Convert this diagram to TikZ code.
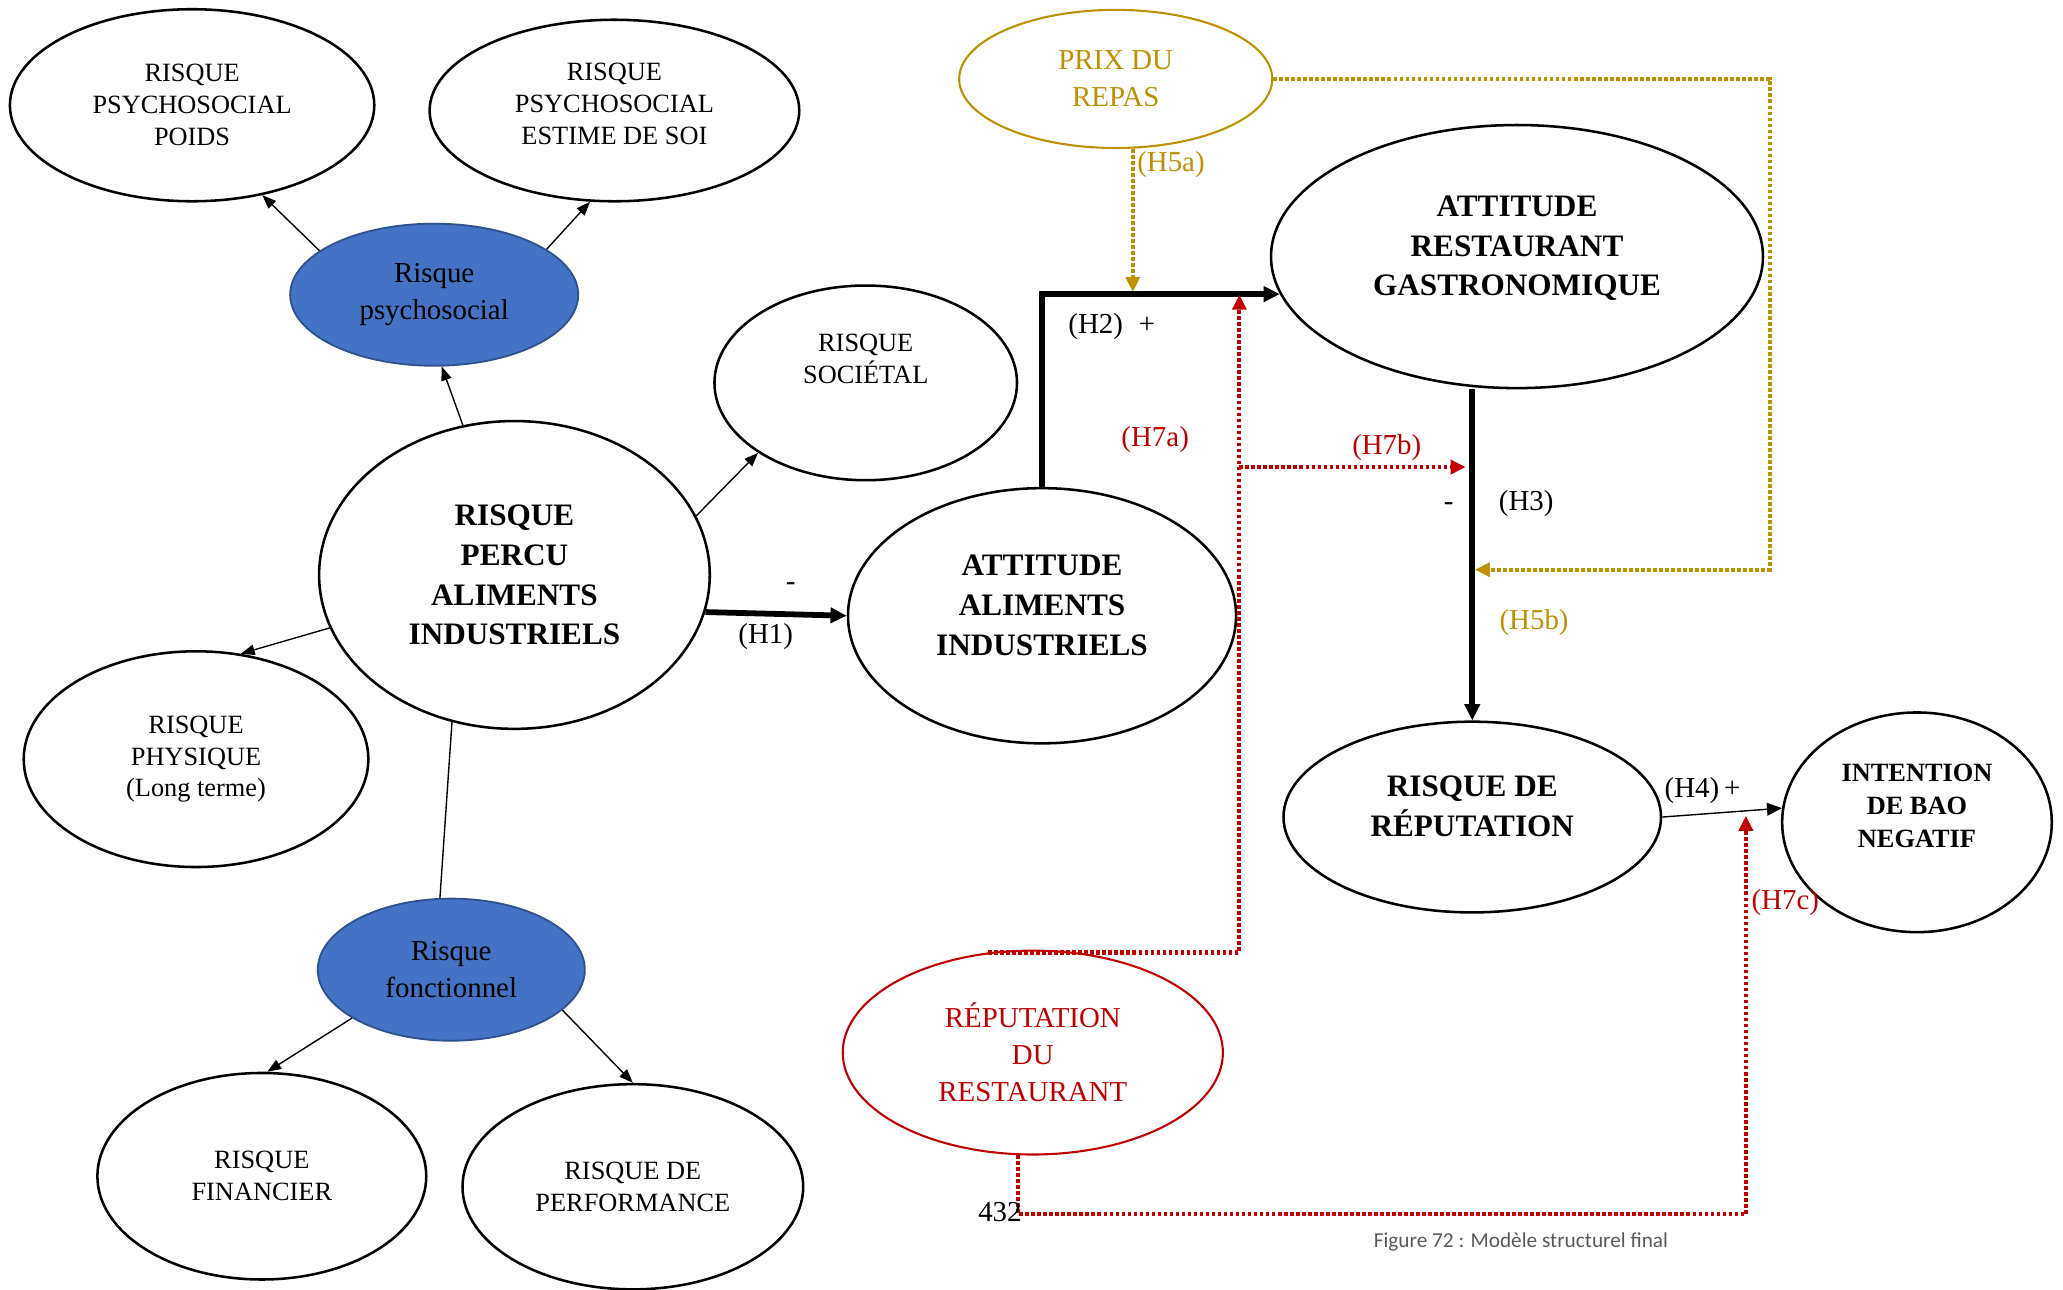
\documentclass[tikz,border=0pt]{standalone}
\usepackage{fontspec}
\setmainfont{Liberation Serif}
\newfontfamily\legendefont{Carlito}
\usepackage{tikz}
\usetikzlibrary{arrows.meta,positioning,shapes.geometric}

\definecolor{bleu}{HTML}{4472C4}
\definecolor{bleubord}{HTML}{2F528F}
\definecolor{ocre}{HTML}{BF9000}
\definecolor{rouge}{HTML}{C00000}
\definecolor{gris}{HTML}{595959}

\begin{document}
\begin{tikzpicture}[x=0.02cm,y=-0.02cm,
  var/.style={ellipse,draw,line width=1.1pt,inner sep=0pt,align=center},
  petit/.style={var,font=\fontsize{11.4}{13.8}\selectfont},
  grand/.style={var,font=\fontsize{13.5}{17.2}\selectfont\bfseries},
  dimbleue/.style={var,draw=bleubord,fill=bleu,line width=0.8pt,font=\fontsize{12.5}{16}\selectfont},
  modvar/.style={var,line width=0.9pt,font=\fontsize{12.5}{16}\selectfont},
  lien/.style={line width=0.6pt,-{Triangle[length=6pt,width=4.5pt]}},
  hyp/.style={line width=2.5pt,-{Triangle[length=7pt,width=6.5pt]}},
  lab/.style={font=\fontsize{12.5}{15}\selectfont,inner sep=1pt},
  pointille/.style={line width=1.8pt,dash pattern=on 1.6pt off 1pt,-{Triangle[length=6.5pt,width=6pt]}}
]
\useasboundingbox (0,0) rectangle (1568,980);

% dimensions du risque percu
\node[petit,minimum width=5.54cm,minimum height=2.92cm] (poids) at (146,80) {RISQUE\\PSYCHOSOCIAL\\POIDS};
\node[petit,minimum width=5.62cm,minimum height=2.76cm] (estime) at (467,84) {RISQUE\\PSYCHOSOCIAL\\ESTIME DE SOI\\[-8pt]\mbox{}};
\node[dimbleue,minimum width=4.38cm,minimum height=2.16cm] (psy) at (330,224) {Risque\\psychosocial};
\node[petit,minimum width=4.6cm,minimum height=2.96cm] (soc) at (658,291) {RISQUE\\SOCIÉTAL\\[7pt]\mbox{}};
\node[grand,minimum width=5.94cm,minimum height=4.68cm] (percu) at (391,437) {RISQUE\\PERCU\\ALIMENTS\\INDUSTRIELS};
\node[petit,minimum width=5.24cm,minimum height=3.28cm] (phys) at (149,577) {RISQUE\\PHYSIQUE\\(Long terme)};
\node[dimbleue,minimum width=4.06cm,minimum height=2.16cm] (fonc) at (343,737) {Risque\\fonctionnel};
\node[petit,minimum width=5.0cm,minimum height=3.14cm] (fin) at (199,894) {RISQUE\\FINANCIER};
\node[petit,minimum width=5.18cm,minimum height=3.12cm] (perf) at (481,902) {RISQUE DE\\PERFORMANCE};

\draw[lien] (psy.159) -- (poids.-52);
\draw[lien] (psy.22) -- (estime.-105);
\draw[lien] (percu.109) -- (psy.-84);
\draw[lien] (percu.18) -- (soc.-147);
\draw[lien] (percu.196) -- (phys.67);
\draw[line width=0.6pt] (percu.-113) -- (fonc.99);
\draw[lien] (fonc.206) -- (fin.87);
\draw[lien] (fonc.-20) -- (perf.90);

% modele structurel
\node[grand,minimum width=5.9cm,minimum height=3.88cm] (ai) at (792,468) {ATTITUDE\\ALIMENTS\\INDUSTRIELS\\[-8pt]\mbox{}};
\node[grand,minimum width=7.48cm,minimum height=4.0cm] (rg) at (1153,195) {ATTITUDE\\RESTAURANT\\GASTRONOMIQUE\\[-8pt]\mbox{}};
\node[grand,minimum width=5.74cm,minimum height=2.9cm] (rr) at (1119,621) {RISQUE DE\\RÉPUTATION\\[-8pt]\mbox{}};
\node[var,font=\fontsize{11.4}{14.2}\selectfont\bfseries,minimum width=4.1cm,minimum height=3.34cm] (bao) at (1457,625) {INTENTION\\DE BAO\\NEGATIF\\[0pt]\mbox{}};
\node[modvar,draw=ocre,text=ocre,minimum width=4.76cm,minimum height=2.1cm] (prix) at (848,60) {PRIX DU\\REPAS};
\node[modvar,draw=rouge,text=rouge,minimum width=5.78cm,minimum height=3.1cm] (rep) at (785,800) {RÉPUTATION\\DU\\RESTAURANT};

\draw[hyp] (percu.-11) -- (ai.west);
\node[lab] (h1signe) at (601,446) {-};
\node[lab] (h1) at (582,484) {(H1)};

\draw[hyp] (ai.north) |- (rg.189);
\node[lab] (h2) at (845,248) {(H2)\hspace{0.55em}+};

\draw[hyp] (rr.north |- rg.south) -- (rr.north);
\node[lab] (h3signe) at (1101,385) {-};
\node[lab] (h3) at (1160,383) {(H3)};

\draw[line width=0.6pt,-{Triangle[length=6.5pt,width=5.5pt]}] (rr.east) -- (bao.174);
\node[lab] (h4) at (1294,601) {(H4)\,+};

% moderateur prix
\coordinate (h5a) at (861,222);
\coordinate (h5b) at (1121,433);
\coordinate (coinh5) at (1345,433);
\draw[pointille,ocre] (prix.south -| h5a) -- (h5a);
\draw[pointille,ocre] (prix.east) -| (coinh5) -- (h5b);
\node[lab,text=ocre] (h5alab) at (890,125) {(H5a)};
\node[lab,text=ocre] (h5blab) at (1166,473) {(H5b)};

% moderateur reputation
\coordinate (h7a) at (942,224);
\coordinate (h7b) at (1114,355);
\coordinate (h7c) at (1327,620);
\coordinate (coinh7) at (1327,923);
\draw[pointille,rouge] (rep.114) -- (rep.114 -| h7a) -- (h7a);
\draw[pointille,rouge] (h7a |- h7b) -- (h7b);
\draw[pointille,rouge] (rep.-98) |- (coinh7) -- (h7c);
\node[lab,text=rouge] (h7alab) at (878,334) {(H7a)};
\node[lab,text=rouge] (h7blab) at (1054,340) {(H7b)};
\node[lab,text=rouge] (h7clab) at (1357,686) {(H7c)};

\node[lab] (page) at (760,921) {432};
\node[font=\legendefont\fontsize{9.2}{11}\selectfont,text=gris] (legende) at (1156,944) {Figure 72 : Modèle structurel final};
\end{tikzpicture}
\end{document}
